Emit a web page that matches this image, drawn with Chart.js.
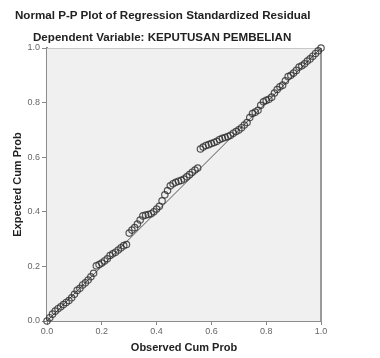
<!DOCTYPE html>
<html>
<head>
<meta charset="utf-8">
<script src="https://cdn.jsdelivr.net/npm/chart.js@4.4.1/dist/chart.umd.min.js"></script>
<style>
  html, body { margin: 0; padding: 0; background: #ffffff; }
  #wrap { position: relative; width: 380px; height: 358px; }
  .ttl { position: absolute; font-family: "Liberation Sans", Arial, sans-serif; font-weight: bold; font-size: 11.6px; line-height: 13px; color: #222; white-space: nowrap; }
  #t1 { left: 15px; top: 8px; }
  #t2 { left: 33px; top: 30px; }
  canvas { position: absolute; left: 0; top: 0; }
</style>
</head>
<body>
<div id="wrap">
  <canvas id="pp" width="380" height="358"></canvas>
  <div class="ttl" id="t1">Normal P-P Plot of Regression Standardized Residual</div>
  <div class="ttl" id="t2">Dependent Variable: KEPUTUSAN PEMBELIAN</div>
</div>
<script>
// observed vs expected cumulative probability
const observedProb = [
  0.00, 0.01, 0.02, 0.03, 0.04, 0.05, 0.06, 0.07, 0.08, 0.09,
  0.10, 0.11, 0.12, 0.13, 0.14, 0.15, 0.16, 0.17, 0.18, 0.19,
  0.20, 0.21, 0.22, 0.23, 0.24, 0.25, 0.26, 0.27, 0.28, 0.29,
  0.30, 0.31, 0.32, 0.33, 0.34, 0.35, 0.36, 0.37, 0.38, 0.39,
  0.40, 0.41, 0.42, 0.43, 0.44, 0.45, 0.46, 0.47, 0.48, 0.49,
  0.50, 0.51, 0.52, 0.53, 0.54, 0.55, 0.56, 0.57, 0.58, 0.59,
  0.60, 0.61, 0.62, 0.63, 0.64, 0.65, 0.66, 0.67, 0.68, 0.69,
  0.70, 0.71, 0.72, 0.73, 0.74, 0.75, 0.76, 0.77, 0.78, 0.79,
  0.80, 0.81, 0.82, 0.83, 0.84, 0.85, 0.86, 0.87, 0.88, 0.89,
  0.90, 0.91, 0.92, 0.93, 0.94, 0.95, 0.96, 0.97, 0.98, 0.99, 1.00
];
const expectedProb = [
  0.000, 0.012, 0.025, 0.036, 0.045, 0.052, 0.060, 0.068, 0.075, 0.085,
  0.098, 0.112, 0.120, 0.132, 0.140, 0.150, 0.162, 0.175, 0.202, 0.207,
  0.212, 0.220, 0.228, 0.240, 0.246, 0.252, 0.260, 0.268, 0.276, 0.280,
  0.322, 0.333, 0.342, 0.355, 0.370, 0.385, 0.388, 0.390, 0.393, 0.400,
  0.410, 0.420, 0.440, 0.462, 0.478, 0.495, 0.503, 0.508, 0.512, 0.515,
  0.520, 0.528, 0.536, 0.545, 0.553, 0.560, 0.630, 0.637, 0.643, 0.646,
  0.650, 0.654, 0.658, 0.665, 0.669, 0.672, 0.676, 0.680, 0.688, 0.694,
  0.700, 0.708, 0.718, 0.727, 0.745, 0.760, 0.765, 0.772, 0.790, 0.803,
  0.808, 0.812, 0.820, 0.835, 0.848, 0.858, 0.864, 0.880, 0.895, 0.900,
  0.908, 0.918, 0.930, 0.935, 0.942, 0.952, 0.960, 0.970, 0.980, 0.990, 1.000
];
const refLineX = [0, 1];
const refLineY = [0, 1];
const axisTicks = [0.0, 0.2, 0.4, 0.6, 0.8, 1.0];

const points = observedProb.map((x, i) => ({ x: x, y: expectedProb[i] }));
const refLine = refLineX.map((x, i) => ({ x: x, y: refLineY[i] }));

// grey plot background and frame
const plotFrame = {
  id: 'plotFrame',
  beforeDatasetsDraw(chart) {
    const { ctx, chartArea: a } = chart;
    ctx.save();
    ctx.fillStyle = '#f0f0f0';
    ctx.fillRect(a.left, a.top, a.right - a.left, a.bottom - a.top);
    ctx.strokeStyle = '#c8c8c8';
    ctx.lineWidth = 1;
    ctx.beginPath();
    ctx.moveTo(a.left, a.top + 0.5);
    ctx.lineTo(a.right, a.top + 0.5);
    ctx.stroke();
    ctx.strokeStyle = '#9a9a9a';
    ctx.lineWidth = 2;
    ctx.beginPath();
    ctx.moveTo(a.right, a.top);
    ctx.lineTo(a.right, a.bottom);
    ctx.stroke();
    ctx.restore();
  }
};

const tickFont = { family: 'Liberation Sans, Arial, sans-serif', size: 9 };
const titleFont = { family: 'Liberation Sans, Arial, sans-serif', size: 11, weight: 'bold' };

new Chart(document.getElementById('pp').getContext('2d'), {
  type: 'scatter',
  data: {
    datasets: [
      {
        label: 'Observed',
        data: points,
        pointRadius: 3.2,
        pointBorderWidth: 1.2,
        borderColor: 'rgba(45,45,45,0.8)',
        backgroundColor: 'rgba(0,0,0,0)',
        clip: false
      },
      {
        type: 'line',
        label: 'Reference',
        data: refLine,
        borderColor: '#555555',
        borderWidth: 1,
        pointRadius: 0,
        fill: false
      }
    ]
  },
  options: {
    responsive: false,
    animation: false,
    layout: { padding: { left: 0, right: 59, top: 48, bottom: 0 } },
    plugins: { legend: { display: false }, tooltip: { enabled: false } },
    scales: {
      x: {
        type: 'linear',
        min: 0,
        max: 1,
        afterFit(scale) { scale.height = 37; },
        afterBuildTicks(scale) { scale.ticks = axisTicks.map(v => ({ value: v })); },
        ticks: { font: tickFont, color: '#666', padding: 1, maxRotation: 0,
                 callback: v => v.toFixed(1) },
        grid: { drawOnChartArea: false, drawTicks: true, tickLength: 4, color: '#888' },
        border: { display: true, color: '#8c8c8c', width: 2 },
        title: { display: true, text: 'Observed Cum Prob', font: titleFont, color: '#222',
                 padding: { top: 0, bottom: 3 } }
      },
      y: {
        type: 'linear',
        min: 0,
        max: 1,
        afterFit(scale) { scale.width = 47; },
        afterBuildTicks(scale) { scale.ticks = axisTicks.map(v => ({ value: v })); },
        ticks: { font: tickFont, color: '#666', padding: 2,
                 callback: v => v.toFixed(1) },
        grid: { drawOnChartArea: false, drawTicks: true, tickLength: 5, color: '#888' },
        border: { display: true, color: '#8c8c8c', width: 2 },
        title: { display: true, text: 'Expected Cum Prob', font: titleFont, color: '#222',
                 padding: { top: 11, bottom: 0 } }
      }
    }
  },
  plugins: [plotFrame]
});
</script>
</body>
</html>
